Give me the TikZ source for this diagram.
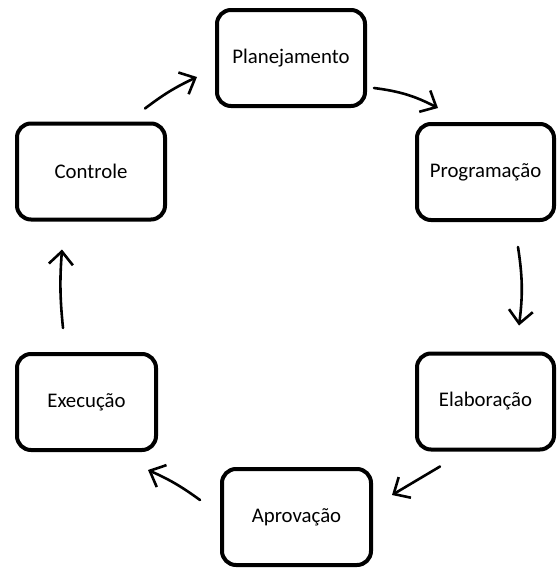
\documentclass[tikz,border=0pt]{standalone}
\usepackage{fontspec}
\setmainfont{Carlito}
\usetikzlibrary{arrows.meta}

\begin{document}
\begin{tikzpicture}[->, >={Straight Barb[length=13pt, width=24pt]},
  line width=2.6pt, line cap=round, x=1pt, y=1pt,
  every node/.style={font=\fontsize{20.8}{25}\selectfont},
  stage/.style={draw, line width=4pt, rounded corners=14pt,
    minimum height=96pt, inner sep=0pt, align=center}]
  \def\stagebox#1#2#3#4{
    \node[stage, minimum width=#3] (#1) at #2 {#4};
  }
  \useasboundingbox (0,0) rectangle (558,-570);

  \stagebox{plan}{(291,-58)}{148pt}{Planejamento}
  \stagebox{prog}{(485.5,-172)}{137pt}{Programação}
  \stagebox{elab}{(485.5,-401.5)}{137pt}{Elaboração}
  \stagebox{aprov}{(296.5,-517)}{149pt}{Aprovação}
  \stagebox{exec}{(86.5,-402)}{139pt}{Execução}
  \stagebox{ctrl}{(91,-171.5)}{148pt}{Controle}

  \path ([shift={(-22,13)}] ctrl.north east) edge[bend left=6]
  ([shift={(-18,-19)}] plan.west)
  ([shift={(7,-30)}] plan.east) edge[bend left=10]
  ([shift={(23,14)}] prog.north west)
  ([shift={(32.5,-25)}] prog.south) edge[bend left=8]
  ([shift={(33.5,26)}] elab.north)
  ([shift={(25,-15)}] elab.south west) edge
  ([shift={(19,22)}] aprov.east)
  ([shift={(-20,17)}] aprov.west) edge[bend right=6]
  ([shift={(-10,-18)}] exec.south east)
  ([shift={(-23.5,24)}] exec.north) edge[bend left=5]
  ([shift={(-29,-28)}] ctrl.south);
\end{tikzpicture}
\end{document}
